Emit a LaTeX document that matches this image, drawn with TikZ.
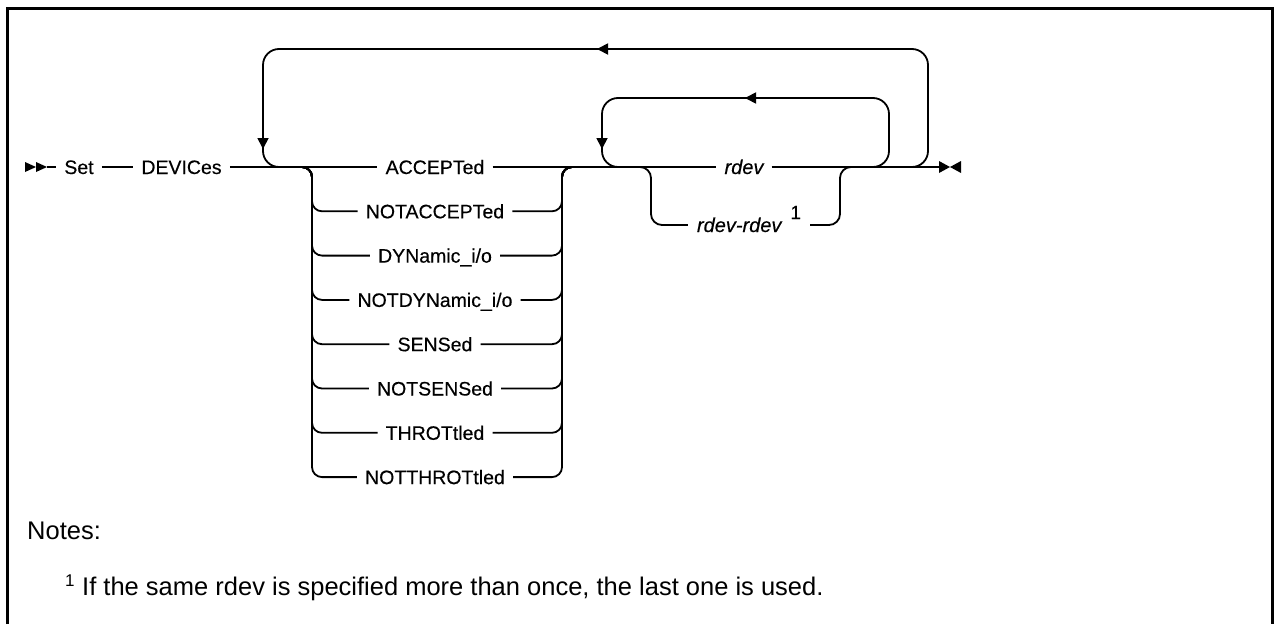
\documentclass[tikz,border=0pt]{standalone}
\usepackage{fontspec}
\setmainfont{Liberation Sans}
\newfontfamily\railfont[FakeBold=0.35]{Liberation Sans}
\usetikzlibrary{arrows.meta}
\tikzset{
  rail/.style={line width=1.8pt, line cap=butt},
  lbl/.style={inner xsep=8pt, inner ysep=0pt, text height=14pt, text depth=0pt, font=\railfont\fontsize{19.5pt}{21pt}\selectfont},
  ilbl/.style={lbl, font=\railfont\fontsize{20pt}{21pt}\selectfont\itshape},
  tip/.style={-{Triangle[length=11pt,width=11pt]}, rail},
  note/.style={inner sep=0pt, anchor=base west, font=\fontsize{25.5pt}{28pt}\selectfont},
}
\begin{document}
\begin{tikzpicture}[x=1pt,y=-1pt]
\useasboundingbox (0,0) rectangle (1274,624);
% frame
\draw[line width=3pt] (7.5,624) -- (7.5,8.5) -- (1272.5,8.5) -- (1272.5,624);

% start marker
\coordinate (s1) at (36,167);
\coordinate (s2) at (47,167);
\fill (25,162) -- (s1) -- (25,172) -- cycle;
\fill (36,162) -- (s2) -- (36,172) -- cycle;

\node[lbl] (set) at (79,167) {Set};
\node[lbl] (dev) at (181.5,167) {DEVICes};
\draw[rail] (s2) -- (set.west);
\draw[rail] (set.east) -- (dev.west);

% first choice
\node[lbl] (c1) at (435,167) {ACCEPTed};
\node[lbl] (c2) at (435,211.3) {NOTACCEPTed};
\node[lbl] (c3) at (435,255.6) {DYNamic\_i/o};
\node[lbl] (c4) at (435,299.9) {NOTDYNamic\_i/o};
\node[lbl] (c5) at (435,344.2) {SENSed};
\node[lbl] (c6) at (435,388.5) {NOTSENSed};
\node[lbl] (c7) at (435,432.8) {THROTtled};
\node[lbl] (c8) at (435,477.1) {NOTTHROTtled};
\coordinate (jL) at (300,167);
\coordinate (jR) at (574,167);
\draw[rail] (dev.east) -- (c1.west);
\foreach \n in {c2,c3,c4,c5,c6,c7,c8}{
  \draw[rail, rounded corners=10pt] (jL) -- (312,167) -- (312,0 |- \n.west) -- (\n.west);
  \draw[rail, rounded corners=10pt] (\n.east) -- (562,0 |- \n.east) -- (562,167) -- (jR);
}

% second choice
\node[ilbl] (r1) at (744,167) {rdev};
\node[ilbl, inner xsep=9pt] (r2) at (749,225) {rdev-rdev\hspace{9pt}{\upshape\fontsize{19pt}{20pt}\selectfont\raisebox{13pt}{1}}};
\coordinate (kL) at (639,167);
\coordinate (kR) at (852,167);
\draw[rail] (c1.east) -- (r1.west);
\draw[rail, rounded corners=11pt] (kL) -- (651,167) -- (651,225) -- (r2.west);
\draw[rail, rounded corners=11pt] (r2.east) -- (840,225) -- (840,167) -- (kR);

% end marker
\coordinate (e0) at (939,167);
\coordinate (e1) at (950,167);
\draw[rail] (r1.east) -- (e0);
\fill (939,161) -- (e1) -- (939,173) -- cycle;
\fill (961,161) -- (e1) -- (961,173) -- cycle;

% inner repeat loop
\draw[rail, rounded corners=16pt] (870,167) -- (889,167) -- (889,98) -- (602,98) -- (602,167) -- (621,167);
\draw[tip] (770,98) -- (745,98);
\draw[tip] (602,125) -- (602,149);

% outer repeat loop
\draw[rail, rounded corners=16pt] (909,167) -- (928,167) -- (928,49) -- (263,49) -- (263,167) -- (282,167);
\draw[tip] (620,49) -- (597,49);
\draw[tip] (263,125) -- (263,149);

% notes
\node[note] (notes) at (27,539) {Notes:};
\node[note, font=\fontsize{17pt}{18pt}\selectfont] (fnm) at (65,586) {1};
\node[note] (fn) at (82,595) {If the same rdev is specified more than once, the last one is used.};
\end{tikzpicture}
\end{document}
